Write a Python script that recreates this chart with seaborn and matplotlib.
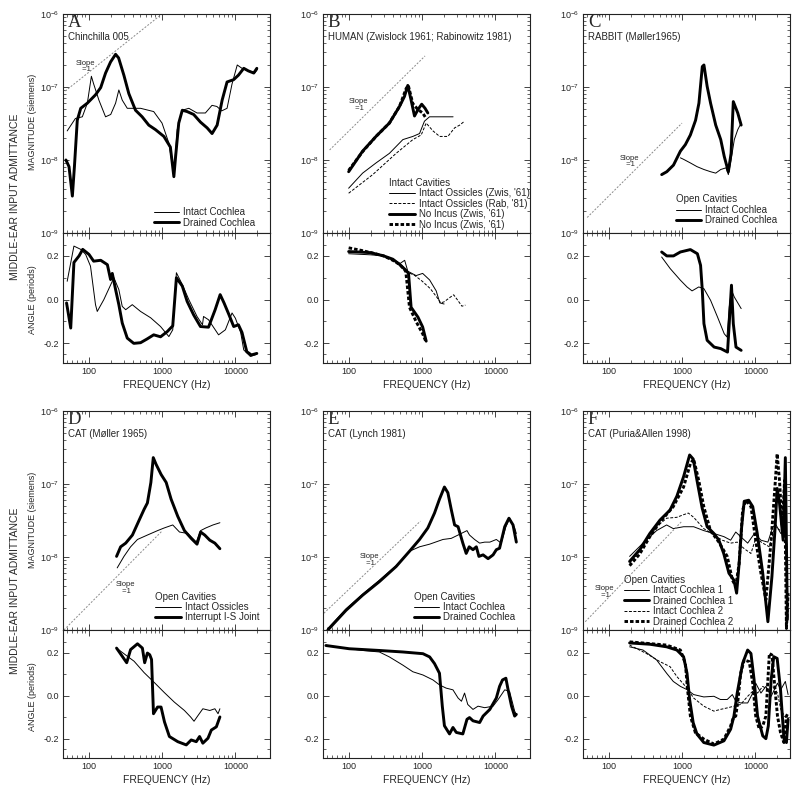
import numpy as np
import pandas as pd
import matplotlib
matplotlib.use('Agg')
import matplotlib.pyplot as plt
import seaborn as sns
from matplotlib.ticker import FixedLocator, FixedFormatter

sns.set_style('ticks')
plt.rcParams['font.family'] = ['Liberation Sans', 'DejaVu Sans']
plt.rcParams['mathtext.default'] = 'regular'

# ---------------- data ----------------
# A: Chinchilla 005
a_int_f = [51, 66, 82, 96, 109, 117, 138, 170, 200, 233, 258, 287, 336, 412, 510, 770, 1000, 1240, 1450, 1610,
           1890, 2320, 3000, 3900, 4800, 5600, 6500, 7700, 9000, 10600, 12300, 15000, 18600, 20000]
a_int_mag = [2.5e-8, 3.7e-8, 3.9e-8, 6.0e-8, 1.4e-7, 1.1e-7, 6.6e-8, 3.9e-8, 4.2e-8, 6.0e-8, 9.1e-8, 6.6e-8, 5.1e-8,
             5.1e-8, 5.1e-8, 4.6e-8, 3.2e-8, 1.7e-8, 6.3e-9, 2.6e-8, 4.8e-8, 5.1e-8, 4.4e-8, 4.4e-8, 5.6e-8, 5.4e-8,
             4.7e-8, 5.1e-8, 1.1e-7, 2.0e-7, 1.8e-7, 1.66e-7, 1.58e-7, 1.74e-7]
a_drn_f = [49, 54, 60, 64, 70, 78, 96, 124, 146, 170, 199, 233, 256, 302, 353, 435, 536, 660, 815, 1060, 1300, 1450,
           1530, 1690, 1890, 2200, 2700, 3340, 4120, 4810, 5640, 6600, 7700, 9480, 11000, 13000, 15000, 17800, 19600]
a_drn_mag = [1.0e-8, 8.1e-9, 3.2e-9, 8.1e-9, 3.5e-8, 5.1e-8, 6.0e-8, 7.8e-8, 9.8e-8, 1.55e-7, 2.2e-7, 2.8e-7, 2.5e-7,
             1.45e-7, 8.1e-8, 4.8e-8, 3.9e-8, 3.0e-8, 2.6e-8, 2.1e-8, 1.5e-8, 5.9e-9, 1.1e-8, 3.2e-8, 4.8e-8, 4.6e-8,
             4.2e-8, 3.3e-8, 2.75e-8, 2.3e-8, 3.0e-8, 6.6e-8, 1.17e-7, 1.26e-7, 1.45e-7, 1.8e-7, 1.66e-7, 1.55e-7, 1.8e-7]
a_int_af = [51, 63, 78, 91, 106, 124, 131, 161, 221, 258, 287, 320, 393, 510, 700, 955, 1240, 1400, 1570, 1890,
            2320, 3000, 3560, 3680, 4300, 5900, 7300, 9000, 10000, 11800, 13000, 16000, 19600]
a_int_ang = [0.084, 0.245, 0.23, 0.207, 0.153, -0.023, -0.054, 0.0, 0.10, 0.046, -0.031, -0.046, -0.023, -0.054,
             -0.083, -0.123, -0.169, -0.138, 0.123, 0.069, 0.0, -0.077, -0.115, -0.077, -0.092, -0.161, -0.138,
             -0.061, -0.085, -0.15, -0.23, -0.26, -0.25]
a_drn_af = [50, 57, 63, 74, 83, 101, 117, 146, 180, 199, 210, 233, 258, 287, 336, 412, 510, 625, 770, 955, 1180,
            1400, 1570, 1890, 2200, 2700, 3340, 4300, 5300, 6200, 7000, 8200, 9480, 11000, 12300, 14300, 16500, 19600]
a_drn_ang = [-0.015, -0.13, 0.17, 0.20, 0.23, 0.207, 0.176, 0.18, 0.16, 0.092, 0.12, 0.046, -0.023, -0.107, -0.176,
             -0.2, -0.197, -0.18, -0.161, -0.17, -0.146, -0.12, 0.10, 0.062, -0.008, -0.07, -0.123, -0.126, -0.046,
             0.023, -0.015, -0.07, -0.123, -0.115, -0.15, -0.238, -0.253, -0.246]

# B: human
b_zint_f = [100, 155, 236, 359, 548, 750, 925, 1080, 1265, 1920, 2650]
b_zint_mag = [4.1e-9, 6.6e-9, 9.1e-9, 1.23e-8, 1.9e-8, 2.1e-8, 2.3e-8, 3.4e-8, 3.9e-8, 3.9e-8, 3.9e-8]
b_rint_f = [100, 213, 443, 750, 975, 1140, 1410, 1740, 2250, 2780, 3260, 3800]
b_rint_mag = [3.5e-9, 6.3e-9, 1.23e-8, 1.9e-8, 2.2e-8, 3.2e-8, 2.5e-8, 2.1e-8, 2.1e-8, 2.75e-8, 3.0e-8, 3.4e-8]
b_zni_f = [100, 155, 236, 359, 493, 576, 640, 710, 790, 880, 990, 1100, 1200]
b_zni_mag = [6.9e-9, 1.32e-8, 2.1e-8, 3.2e-8, 5.4e-8, 7.4e-8, 1.05e-7, 6.6e-8, 4.0e-8, 4.9e-8, 5.8e-8, 5.1e-8, 4.4e-8]
b_zni2_f = [100, 155, 236, 359, 493, 607, 650, 750, 880, 1020, 1140]
b_zni2_mag = [7.2e-9, 1.3e-8, 2.1e-8, 3.2e-8, 5.4e-8, 9.5e-8, 1.05e-7, 5.9e-8, 4.9e-8, 4.4e-8, 3.7e-8]
b_zint_af = [100, 200, 300, 400, 500, 580, 640, 830, 1020, 1270, 1560, 1750, 2000]
b_zint_ang = [0.21, 0.205, 0.2, 0.185, 0.165, 0.18, 0.13, 0.11, 0.12, 0.09, 0.04, -0.015, -0.02]
b_rint_af = [100, 200, 300, 400, 500, 600, 800, 1000, 1300, 1600, 1800, 2000, 2400, 2700, 3100, 3500, 3900]
b_rint_ang = [0.22, 0.215, 0.2, 0.18, 0.155, 0.13, 0.11, 0.085, 0.05, 0.01, -0.015, -0.01, 0.01, 0.022, -0.005,
              -0.03, -0.025]
b_zni_af = [100, 200, 300, 400, 500, 600, 655, 710, 880, 1020, 1140]
b_zni_ang = [0.22, 0.215, 0.2, 0.185, 0.16, 0.135, 0.12, -0.035, -0.08, -0.125, -0.19]
b_zni2_af = [100, 150, 200, 300, 400, 500, 600, 620, 675, 830, 1020, 1140]
b_zni2_ang = [0.237, 0.225, 0.215, 0.2, 0.18, 0.16, 0.13, 0.086, -0.035, -0.10, -0.156, -0.195]

# C: rabbit
c_drn_f = [528, 620, 765, 950, 1110, 1300, 1530, 1700, 1890, 1990, 2200, 2450, 2880, 3370, 3760, 4280, 4660, 5000,
           5750, 6400]
c_drn_mag = [6.3e-9, 6.9e-9, 8.5e-9, 1.32e-8, 1.62e-8, 2.2e-8, 3.5e-8, 6.0e-8, 1.9e-7, 2.0e-7, 1.02e-7, 6.0e-8,
             3.0e-8, 1.9e-8, 1.12e-8, 6.9e-9, 1.23e-8, 6.3e-8, 4.4e-8, 3.0e-8]
c_int_f = [950, 1050, 1300, 1600, 1990, 2450, 2880, 3370, 3970, 4280, 4660, 5160, 5750, 6400]
c_int_mag = [1.07e-8, 1.02e-8, 9.1e-9, 8.1e-9, 7.4e-9, 6.9e-9, 6.6e-9, 7.4e-9, 7.8e-9, 6.3e-9, 1.0e-8, 1.9e-8,
             2.6e-8, 3.2e-8]
c_drn_af = [528, 620, 765, 950, 1300, 1620, 1790, 1890, 1990, 2200, 2740, 3370, 4170, 4400, 4720, 5000, 5440, 6400]
c_drn_ang = [0.218, 0.2, 0.2, 0.218, 0.229, 0.21, 0.157, 0.043, -0.11, -0.186, -0.217, -0.224, -0.24, -0.11, 0.066,
             -0.11, -0.217, -0.232]
c_int_af = [528, 690, 950, 1170, 1370, 1690, 1990, 2450, 3050, 3760, 4100, 4400, 4720, 5160, 6400]
c_int_ang = [0.195, 0.142, 0.089, 0.058, 0.04, 0.058, 0.05, -0.003, -0.08, -0.156, -0.171, -0.034, 0.043, 0.012,
             -0.041]

# D: cat (Moller)
d_isj_f = [240, 273, 320, 395, 488, 570, 632, 705, 760, 830, 972, 1140, 1330, 1640, 2020, 2500, 3000, 3360, 3820,
           4480, 5250, 6150]
d_isj_mag = [1.02e-8, 1.38e-8, 1.55e-8, 2.0e-8, 3.2e-8, 4.5e-8, 5.5e-8, 1.05e-7, 2.3e-7, 1.86e-7, 1.35e-7, 1.05e-7,
             6.2e-8, 3.6e-8, 2.3e-8, 1.8e-8, 1.5e-8, 2.2e-8, 2.0e-8, 1.7e-8, 1.55e-8, 1.3e-8]
d_int_f = [245, 303, 373, 463, 632, 870, 1070, 1400, 1730, 2250, 2930, 3360, 3950, 4950, 6150]
d_int_mag = [7.1e-9, 1.02e-8, 1.38e-8, 1.74e-8, 2.0e-8, 2.3e-8, 2.5e-8, 2.75e-8, 2.2e-8, 2.1e-8, 1.6e-8, 2.3e-8,
             2.5e-8, 2.75e-8, 2.95e-8]
d_isj_af = [240, 287, 330, 373, 463, 540, 580, 632, 680, 720, 765, 870, 970, 1080, 1260, 1640, 2140, 2500, 2930,
            3250, 3600, 4230, 4700, 5500, 6150]
d_isj_ang = [0.221, 0.183, 0.153, 0.214, 0.241, 0.221, 0.153, 0.198, 0.19, 0.168, -0.084, -0.053, -0.053, -0.122,
             -0.19, -0.214, -0.229, -0.206, -0.214, -0.19, -0.221, -0.198, -0.16, -0.145, -0.099]
d_int_af = [240, 337, 416, 570, 785, 1070, 1470, 2020, 2450, 2730, 3100, 3600, 4480, 5250, 5800, 6150]
d_int_ang = [0.221, 0.183, 0.16, 0.107, 0.061, 0.015, -0.03, -0.069, -0.099, -0.119, -0.092, -0.061, -0.069,
             -0.061, -0.084, -0.061]

# E: cat (Lynch)
e_drn_f = [52, 92, 155, 262, 443, 675, 925, 1200, 1480, 1730, 2020, 2250, 2500, 2780, 3100, 3600, 4000, 4400, 4950,
           5500, 5960, 6800, 7950, 9300, 10300, 11400, 13400, 15300, 17400, 19300]
e_drn_mag = [1.0e-9, 1.86e-9, 3.0e-9, 4.6e-9, 7.4e-9, 1.2e-8, 1.74e-8, 2.5e-8, 4.0e-8, 6.2e-8, 9.1e-8, 7.6e-8,
             4.5e-8, 2.75e-8, 2.6e-8, 1.55e-8, 1.12e-8, 1.38e-8, 1.26e-8, 1.38e-8, 1.02e-8, 1.07e-8, 9.5e-9,
             1.07e-8, 1.26e-8, 1.32e-8, 2.6e-8, 3.4e-8, 2.75e-8, 1.6e-8]
e_int_f = [52, 92, 155, 262, 443, 675, 925, 1270, 1930, 2500, 3100, 4100, 4440, 5200, 6100, 7150, 8400, 10300,
           12000, 13900, 15600, 18300, 19300]
e_int_mag = [1.05e-9, 1.95e-9, 3.1e-9, 4.8e-9, 7.6e-9, 1.2e-8, 1.38e-8, 1.5e-8, 1.74e-8, 1.8e-8, 2.0e-8, 2.3e-8,
             2.0e-8, 1.74e-8, 1.55e-8, 1.6e-8, 1.6e-8, 1.74e-8, 1.55e-8, 2.6e-8, 3.4e-8, 2.5e-8, 2.1e-8]
e_drn_af = [49, 102, 262, 547, 1030, 1270, 1480, 1730, 1890, 2020, 2370, 2640, 2930, 3600, 4100, 4440, 4950, 6100,
            6800, 8400, 10300, 11400, 12500, 13900, 14900, 16600, 18300, 19300]
e_drn_ang = [0.233, 0.218, 0.21, 0.203, 0.195, 0.18, 0.149, 0.104, -0.049, -0.14, -0.178, -0.148, -0.171, -0.178,
             -0.11, -0.102, -0.117, -0.125, -0.095, -0.064, -0.011, 0.043, 0.073, 0.081, 0.027, -0.049, -0.095,
             -0.087]
e_int_af = [49, 155, 262, 359, 547, 750, 1030, 1410, 1730, 2130, 2640, 3100, 3450, 3800, 4200, 4950, 5800, 7150,
            9300, 10900, 13400, 15600, 18300, 19300]
e_int_ang = [0.233, 0.21, 0.203, 0.18, 0.142, 0.111, 0.096, 0.073, 0.05, 0.035, 0.027, -0.011, -0.026, 0.012,
             -0.041, -0.064, -0.049, -0.056, -0.049, -0.018, 0.027, 0.02, -0.072, -0.087]

# F: cat (Puria & Allen)
f_d1_f = [193, 265, 364, 500, 686, 850, 1050, 1270, 1420, 1600, 1880, 2200, 2720, 3180, 3700, 4360, 5100, 5550, 6000,
          6500, 7040, 8100, 9200, 10600, 12600, 14800, 16800, 18600, 19800, 21300, 23900, 25600, 27300]
f_d1_mag = [8.7e-9, 1.26e-8, 2.1e-8, 3.2e-8, 4.4e-8, 6.8e-8, 1.26e-7, 2.5e-7, 2.2e-7, 1.12e-7, 4.7e-8, 2.6e-8,
            2.1e-8, 1.7e-8, 1.12e-8, 6.0e-9, 4.8e-9, 3.2e-9, 8.1e-9, 2.6e-8, 5.8e-8, 6.0e-8, 4.9e-8, 2.1e-8, 6.0e-9,
            1.3e-9, 5.4e-9, 2.6e-8, 8.7e-8, 5.5e-8, 1.7e-8, 2.3e-7, 1.4e-9]
f_d2_f = [193, 265, 364, 500, 760, 1050, 1300, 1440, 1690, 1980, 2440, 3180, 4130, 4870, 5400, 6000, 6700, 7430,
          8700, 10100, 11900, 13900, 16400, 18600, 19800, 21300, 23200, 25000, 26500, 27900]
f_d2_mag = [7.6e-9, 1.1e-8, 1.9e-8, 3.0e-8, 4.9e-8, 9.1e-8, 1.9e-7, 2.2e-7, 1.12e-7, 4.9e-8, 2.3e-8, 1.6e-8,
            1.02e-8, 4.8e-9, 4.0e-9, 8.1e-9, 4.4e-8, 6.0e-8, 4.9e-8, 1.7e-8, 6.0e-9, 2.6e-9, 1.7e-8, 1.02e-7,
            2.6e-7, 1.12e-7, 2.6e-8, 1.12e-7, 1.05e-9, 3.2e-9]
f_i1_f = [193, 294, 450, 617, 760, 1050, 1440, 1980, 2720, 3730, 4600, 5400, 6300, 7850, 9700, 11900, 14800, 17300,
          19100, 22200, 24900, 27300]
f_i1_mag = [1.02e-8, 1.55e-8, 2.3e-8, 2.75e-8, 2.45e-8, 2.6e-8, 2.6e-8, 2.3e-8, 2.1e-8, 1.9e-8, 1.7e-8, 2.2e-8,
            1.9e-8, 1.55e-8, 2.1e-8, 1.7e-8, 1.6e-8, 2.6e-8, 2.75e-8, 2.1e-8, 2.3e-8, 1.26e-8]
f_i2_f = [193, 294, 450, 617, 850, 1050, 1220, 1440, 1980, 2720, 3540, 4600, 5660, 7040, 8700, 10100, 12600, 15500,
          18600, 21300, 25000, 27300]
f_i2_mag = [8.1e-9, 1.38e-8, 2.6e-8, 3.4e-8, 3.5e-8, 3.8e-8, 4.0e-8, 3.5e-8, 2.45e-8, 2.0e-8, 1.7e-8, 1.55e-8,
            1.6e-8, 1.3e-8, 1.12e-8, 1.8e-8, 1.55e-8, 1.38e-8, 2.6e-8, 2.35e-8, 2.2e-8, 1.38e-8]
f_d1_af = [193, 364, 617, 850, 1050, 1170, 1270, 1420, 1600, 1980, 2720, 3730, 4600, 5100, 5650, 6700, 7840, 8700,
           9600, 10700, 12600, 13900, 15000, 16400, 17800, 19800, 22000, 24500, 26500, 27900]
f_d1_ang = [0.245, 0.239, 0.227, 0.212, 0.181, 0.104, -0.018, -0.126, -0.179, -0.218, -0.23, -0.21, -0.156, -0.095,
            0.012, 0.15, 0.212, 0.196, 0.074, -0.095, -0.187, -0.2, -0.141, 0.074, 0.181, 0.173, 0.028, -0.2,
            -0.218, -0.11]
f_d2_af = [193, 617, 950, 1110, 1190, 1300, 1520, 1980, 2720, 3730, 4600, 5000, 5400, 5800, 6300, 7040, 8240, 9200,
           10100, 11300, 12600, 13900, 15500, 16800, 18200, 20000, 22000, 24500, 26500, 27900]
f_d2_ang = [0.25, 0.235, 0.212, 0.15, 0.028, -0.095, -0.172, -0.202, -0.225, -0.202, -0.141, -0.103, -0.095, -0.018,
            0.104, 0.166, 0.158, 0.058, -0.095, -0.156, -0.141, -0.095, 0.196, 0.189, 0.058, -0.095, -0.172, -0.218,
            -0.095, -0.08]
f_i1_af = [193, 294, 450, 617, 760, 950, 1170, 1440, 1980, 2720, 3340, 4130, 4850, 5400, 6300, 7850, 9200, 10100,
           11900, 13900, 16400, 20000, 22200, 25600, 27900]
f_i1_ang = [0.227, 0.212, 0.166, 0.104, 0.066, 0.043, 0.028, 0.005, -0.006, -0.003, -0.018, -0.018, 0.005, -0.026,
            -0.034, -0.034, 0.012, 0.058, 0.012, 0.043, -0.003, 0.058, 0.028, 0.066, 0.005]
f_i2_af = [193, 327, 500, 686, 850, 1170, 1440, 1980, 2720, 3340, 4130, 5100, 6300, 7850, 9700, 10700, 12600, 14800,
           17300, 20000, 22200, 24900, 27900]
f_i2_ang = [0.235, 0.196, 0.158, 0.135, 0.089, 0.035, -0.011, -0.049, -0.072, -0.064, -0.057, -0.049, -0.041,
            -0.003, 0.028, 0.012, 0.043, 0.028, 0.043, 0.012, -0.064, -0.095, -0.11]

# slope = 1 reference lines (end points) and label spots
slope_f = {'A': [48, 1000], 'B': [55, 1100], 'C': [51, 1000], 'D': [46, 1000], 'E': [46, 950], 'F': [48, 1000]}
slope_mag = {'A': [8.8e-8, 1e-6], 'B': [1.37e-8, 2.66e-7], 'C': [1.63e-9, 3.2e-8], 'D': [1.0e-9, 2.27e-8],
             'E': [1.7e-9, 3.1e-8], 'F': [1.3e-9, 3.1e-8]}
slope_lab = {'A': (91, 1.9e-7), 'B': (136, 5.6e-8), 'C': (193, 9.5e-9), 'D': (320, 3.8e-9),
             'E': (192, 9.2e-9), 'F': (87, 3.3e-9)}

mag_ticks = [1e-9, 1e-8, 1e-7, 1e-6]
ang_ticks = [-0.2, 0.0, 0.2]
ang_ticklabels = ['-0.2', '0.0', '0.2']
freq_ticks = [100, 1000, 10000]
freq_ticklabels = ['100', '1000', '10000']

# ---------------- styles ----------------
THIN = dict(color='black', lw=0.7)
THICK = dict(color='black', lw=2.1)
THIN_DASH = dict(color='black', lw=0.7, ls=(0, (3, 1.6)))
THICK_DOT = dict(color='black', lw=2.1, ls=(0, (1.2, 0.7)))

panels = [
    ('A', 'Chinchilla 005', None, (0.93, 0.02), [
        ('Intact Cochlea', a_int_f, a_int_mag, a_int_af, a_int_ang, THIN),
        ('Drained Cochlea', a_drn_f, a_drn_mag, a_drn_af, a_drn_ang, THICK)]),
    ('B', 'HUMAN (Zwislock 1961; Rabinowitz 1981)', 'Intact Cavities', (1.0, 0.01), [
        ("Intact Ossicles (Zwis, '61)", b_zint_f, b_zint_mag, b_zint_af, b_zint_ang, THIN),
        ("Intact Ossicles (Rab, '81)", b_rint_f, b_rint_mag, b_rint_af, b_rint_ang, THIN_DASH),
        ("No Incus (Zwis, '61)", b_zni_f, b_zni_mag, b_zni_af, b_zni_ang, THICK),
        ("No Incus (Zwis, '61)", b_zni2_f, b_zni2_mag, b_zni2_af, b_zni2_ang, THICK_DOT)]),
    ('C', 'RABBIT (M\u00f8ller1965)', 'Open Cavities', (0.94, 0.03), [
        ('Intact Cochlea', c_int_f, c_int_mag, c_int_af, c_int_ang, THIN),
        ('Drained Cochlea', c_drn_f, c_drn_mag, c_drn_af, c_drn_ang, THICK)]),
    ('D', 'CAT (M\u00f8ller 1965)', 'Open Cavities', (0.95, 0.03), [
        ('Intact Ossicles', d_int_f, d_int_mag, d_int_af, d_int_ang, THIN),
        ('Interrupt I-S Joint', d_isj_f, d_isj_mag, d_isj_af, d_isj_ang, THICK)]),
    ('E', 'CAT (Lynch 1981)', 'Open Cavities', (0.93, 0.03), [
        ('Intact Cochlea', e_int_f, e_int_mag, e_int_af, e_int_ang, THIN),
        ('Drained Cochlea', e_drn_f, e_drn_mag, e_drn_af, e_drn_ang, THICK)]),
    ('F', 'CAT (Puria&Allen 1998)', 'Open Cavities', (0.73, 0.01), [
        ('Intact Cochlea 1', f_i1_f, f_i1_mag, f_i1_af, f_i1_ang, THIN),
        ('Drained Cochlea 1', f_d1_f, f_d1_mag, f_d1_af, f_d1_ang, THICK),
        ('Intact Cochlea 2', f_i2_f, f_i2_mag, f_i2_af, f_i2_ang, THIN_DASH),
        ('Drained Cochlea 2', f_d2_f, f_d2_mag, f_d2_af, f_d2_ang, THICK_DOT)]),
]

fig = plt.figure(figsize=(8, 7.97), dpi=100)
lefts = [0.079, 0.404, 0.729]
width = 0.259
rows = [(0.7077, 0.5445, 0.1632), (0.2095, 0.0489, 0.1606)]
FS = 7


def style_axes(ax):
    ax.set_xscale('log')
    ax.set_xlim(45, 30000)
    for s in ax.spines.values():
        s.set_visible(True)
        s.set_linewidth(0.8)
        s.set_color('#222222')
    ax.tick_params(which='both', direction='in', top=True, right=True, labelsize=6.5, pad=3)
    ax.tick_params(which='major', length=4, width=0.6)
    ax.tick_params(which='minor', length=2, width=0.5)
    ax.xaxis.set_major_locator(FixedLocator(freq_ticks))
    ax.xaxis.set_minor_locator(FixedLocator([m * d for d in (10, 100, 1000, 10000) for m in range(2, 10)
                                             if 45 <= m * d <= 30000]))


for i, (letter, title, leg_title, anchor, curves) in enumerate(panels):
    r, c = divmod(i, 3)
    mb, ab, ah = rows[r]
    axm = fig.add_axes([lefts[c], mb, width, 0.2748])
    axa = fig.add_axes([lefts[c], ab, width, ah])

    for lab, f, m, af, ang, st in curves:
        sns.lineplot(x=f, y=m, ax=axm, label=lab, sort=False, estimator=None, **st)
        sns.lineplot(x=af, y=ang, ax=axa, sort=False, estimator=None, legend=False, **st)

    # slope = 1 line
    sns.lineplot(x=slope_f[letter], y=slope_mag[letter], ax=axm, color='#8a8a8a', lw=0.7,
                 ls=(0, (2, 1.6)), legend=False)
    sx, sy = slope_lab[letter]
    axm.text(sx, sy, 'Slope\n =1', fontsize=5.5, ha='center', va='center', linespacing=0.95)

    style_axes(axm)
    axm.set_yscale('log')
    axm.set_ylim(1e-9, 1e-6)
    axm.yaxis.set_major_locator(FixedLocator(mag_ticks))
    axm.yaxis.set_minor_locator(FixedLocator([m * d for d in (1e-9, 1e-8, 1e-7) for m in range(2, 10)]))
    axm.tick_params(axis='x', labelbottom=False)
    axm.set_xlabel('')
    axm.set_ylabel('')

    style_axes(axa)
    axa.set_ylim(-0.29, 0.305)
    axa.yaxis.set_major_locator(FixedLocator(ang_ticks))
    axa.yaxis.set_major_formatter(FixedFormatter(ang_ticklabels))
    axa.yaxis.set_minor_locator(FixedLocator([-0.25, -0.1, 0.1, 0.25]))
    axa.xaxis.set_major_formatter(FixedFormatter(freq_ticklabels))
    axa.set_xlabel('FREQUENCY (Hz)', fontsize=7.5, labelpad=3)
    axa.set_ylabel('')

    axm.text(0.022, 0.998, letter, transform=axm.transAxes, fontsize=13.5, va='top', ha='left',
             family=['Liberation Serif', 'DejaVu Serif'])
    axm.text(0.022, 0.893, title, transform=axm.transAxes, fontsize=FS, va='center', ha='left')

    axm.legend(loc='lower right', bbox_to_anchor=anchor, frameon=False, fontsize=FS,
               title=leg_title, title_fontsize=FS, alignment='left', handlelength=2.6,
               handletextpad=0.4, labelspacing=0.05, borderpad=0.1, borderaxespad=0)

# left-side labels
for yc, ym, ya in [(0.753, 0.847, 0.6236), (0.2585, 0.3475, 0.1255)]:
    fig.text(0.019, yc, 'MIDDLE-EAR INPUT ADMITTANCE', rotation=90, fontsize=7.5, ha='center', va='center')
    fig.text(0.041, ym, 'MAGNITUDE (siemens)', rotation=90, fontsize=6.5, ha='center', va='center')
    fig.text(0.041, ya, 'ANGLE (periods)', rotation=90, fontsize=6.5, ha='center', va='center')

fig.savefig('out.png', dpi=100)
